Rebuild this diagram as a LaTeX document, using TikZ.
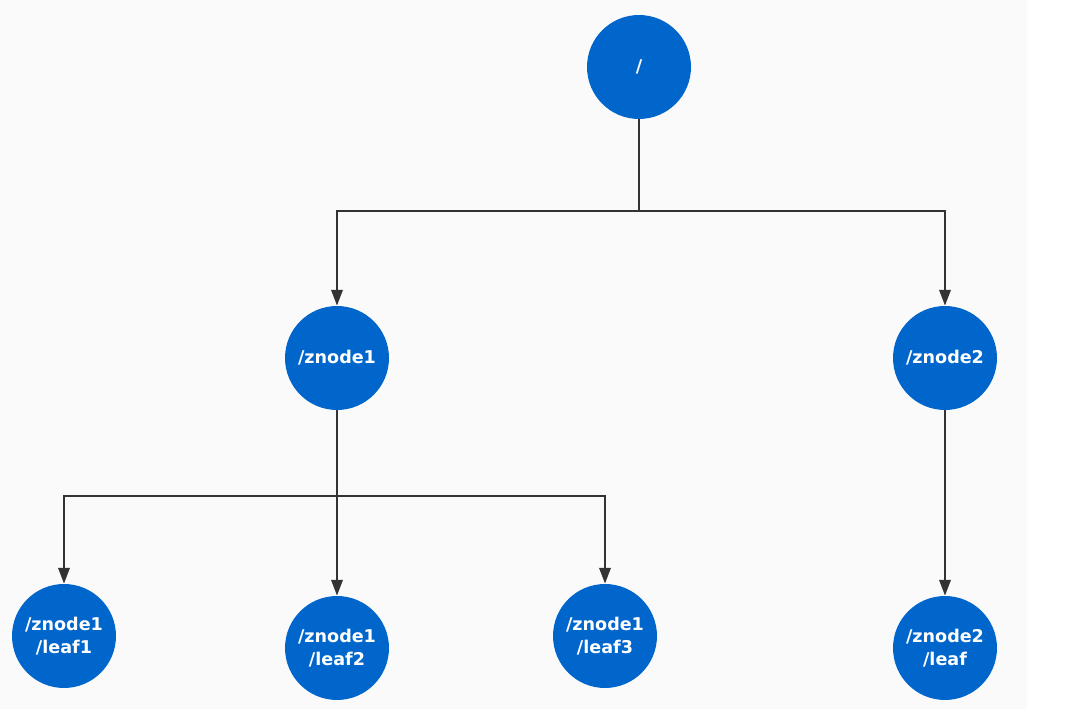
\documentclass[tikz,border=0pt]{standalone}
\usepackage{fontspec}
\setmainfont{DejaVu Sans}
\usepackage{tikz}
\usetikzlibrary{arrows.meta}

\definecolor{zblue}{HTML}{0066CC}
\definecolor{zline}{HTML}{333333}
\definecolor{zback}{HTML}{FAFAFA}

\tikzset{
  znode/.style={circle,fill=zblue,text=white,minimum size=2.08cm,inner sep=0pt,
    align=center,font=\fontsize{10}{13}\selectfont\bfseries},
  zedge/.style={draw=zline,line width=1.2pt,-{Triangle[length=9pt,width=6.5pt]}}
}

\begin{document}
\begin{tikzpicture}[x=0.02cm,y=-0.02cm]
\useasboundingbox (0,0) rectangle (1066,709);
\fill[zback] (0,0) rectangle (1027,709);

\node[znode] (0) at (639,67) {/};

\node[znode] (1) at (337,358) {/znode1};
\node[znode] (2) at (945,358) {/znode2};

\node[znode] (11) at (64,636) {/znode1\\/leaf1};
\node[znode] (12) at (337,648) {/znode1\\/leaf2};
\node[znode] (13) at (605,636) {/znode1\\/leaf3};
\node[znode] (21) at (945,648) {/znode2\\/leaf};

\coordinate (b0) at (639,211);
\coordinate (b1) at (337,496);

\draw[zedge] (0) -- (b0) -| (1);
\draw[zedge] (b0) -| (2);
\draw[zedge] (1) -- (12);
\draw[zedge] (b1) -| (11);
\draw[zedge] (b1) -| (13);
\draw[zedge] (2) -- (21);
\end{tikzpicture}
\end{document}
